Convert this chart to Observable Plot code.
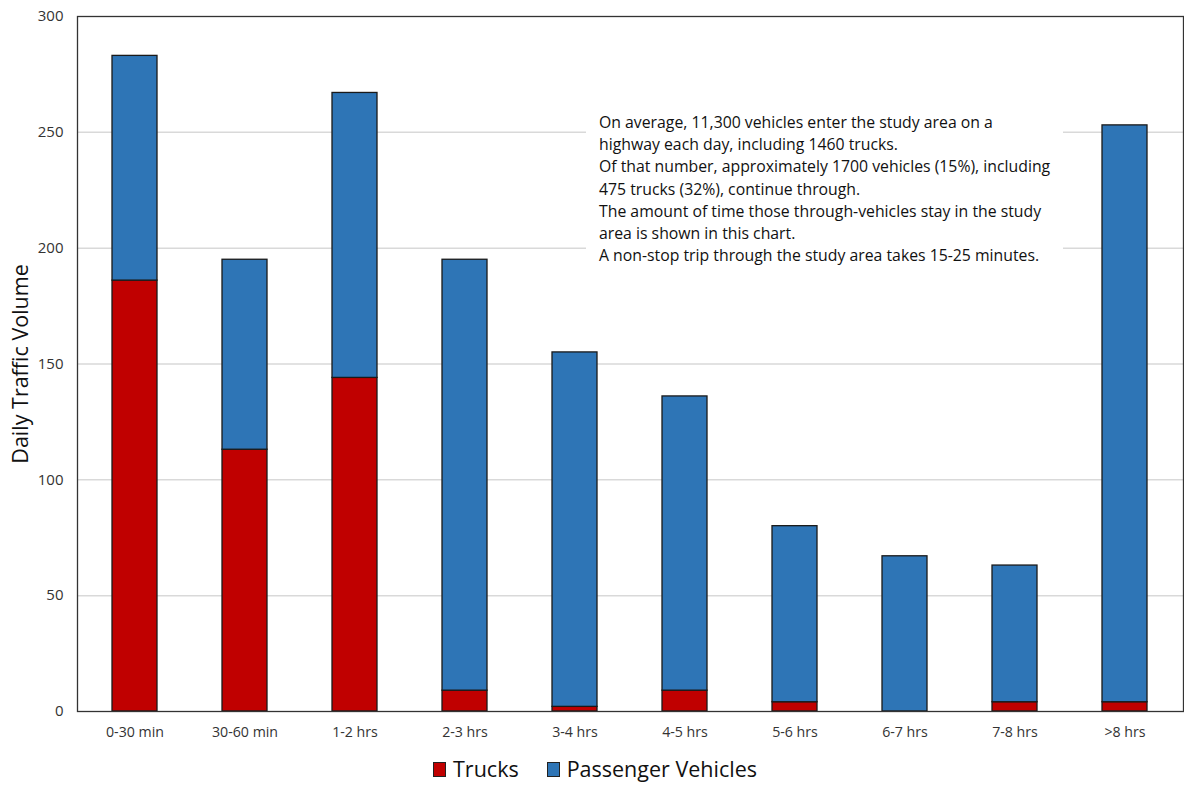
<!DOCTYPE html>
<html>
<head>
<meta charset="utf-8">
<script src="https://cdn.jsdelivr.net/npm/d3@7"></script>
<script src="https://cdn.jsdelivr.net/npm/@observablehq/plot@0.6"></script>
<style>
  html, body { margin: 0; padding: 0; background: #fff; }
  #wrap { position: relative; width: 1184px; height: 785px; overflow: hidden; font-family: "Open Sans", "Noto Sans", sans-serif; }
  #note {
    position: absolute; left: 586px; top: 109px; width: 477px; height: 157px;
    background: #fff; color: #111; font-size: 15.8px; line-height: 22.2px;
    padding: 2px 0 0 13px; box-sizing: border-box; letter-spacing: 0px; white-space: nowrap;
  }
  #legend {
    position: absolute; left: 0; width: 1184px; top: 757px; display: flex; justify-content: center;
    gap: 28px; font-size: 21.5px; line-height: 24px; color: #111; padding-left: 6px; box-sizing: border-box;
  }
  .item { display: flex; align-items: center; gap: 7px; }
  .sw { width: 11px; height: 13px; border: 1px solid #222; display: inline-block; }
</style>
</head>
<body>
<div id="wrap">
  <div id="chart"></div>
  <div id="note"></div>
  <div id="legend"></div>
</div>
<script>
const categories = ["0-30 min", "30-60 min", "1-2 hrs", "2-3 hrs", "3-4 hrs", "4-5 hrs", "5-6 hrs", "6-7 hrs", "7-8 hrs", ">8 hrs"];
const trucks = [186, 113, 144, 9, 2, 9, 4, 0, 4, 4];
const passenger = [97, 82, 123, 186, 153, 127, 76, 67, 59, 249];
const seriesNames = ["Trucks", "Passenger Vehicles"];
const seriesColors = ["#C00000", "#2E75B6"];
const yTicks = [0, 50, 100, 150, 200, 250, 300];
const yLabel = "Daily Traffic Volume";
const noteLines = [
  "On average, 11,300 vehicles enter the study area on a",
  "highway each day, including 1460 trucks.",
  "Of that number, approximately 1700 vehicles (15%), including",
  "475 trucks (32%), continue through.",
  "The amount of time those through-vehicles stay in the study",
  "area is shown in this chart.",
  "A non-stop trip through the study area takes 15-25 minutes."
];

const rows = [];
categories.forEach((c, i) => {
  rows.push({cat: c, series: seriesNames[0], value: trucks[i]});
  rows.push({cat: c, series: seriesNames[1], value: passenger[i]});
});

const chart = Plot.plot({
  width: 1184,
  height: 745,
  marginTop: 16,
  marginLeft: 77,
  marginRight: 1,
  marginBottom: 34,
  style: {fontFamily: "'Open Sans', 'Noto Sans', sans-serif", background: "#fff"},
  x: {domain: categories, paddingInner: 0.59, paddingOuter: 0.295, label: null},
  y: {domain: [0, 300], ticks: yTicks, label: null},
  color: {domain: seriesNames, range: seriesColors},
  marks: [
    Plot.gridY(yTicks.filter(d => d > 0 && d < 300), {stroke: "#d9d9d9", strokeOpacity: 1, strokeWidth: 1.5}),
    Plot.barY(rows.filter(d => d.value > 0), {
      x: "cat", y: "value", fill: "series", order: seriesNames,
      stroke: "#1a1a1a", strokeWidth: 1.3
    }),
    Plot.frame({stroke: "#333", strokeWidth: 1.3}),
    Plot.axisY({ticks: yTicks, tickSize: 0, tickPadding: 14, fontSize: 15, fill: "#333", label: null}),
    Plot.axisX({tickSize: 0, tickPadding: 15, fontSize: 14.2, fill: "#333", label: null}),
    Plot.text([yLabel], {frameAnchor: "left", textAnchor: "middle", rotate: -90, dx: -56, fontSize: 21.5, fill: "#111"})
  ]
});
document.getElementById("chart").appendChild(chart);

document.getElementById("note").innerHTML = noteLines.map(l => `<div>${l}</div>`).join("");
document.getElementById("legend").innerHTML = seriesNames.map((s, i) =>
  `<span class="item"><span class="sw" style="background:${seriesColors[i]}"></span>${s}</span>`).join("");
</script>
</body>
</html>
